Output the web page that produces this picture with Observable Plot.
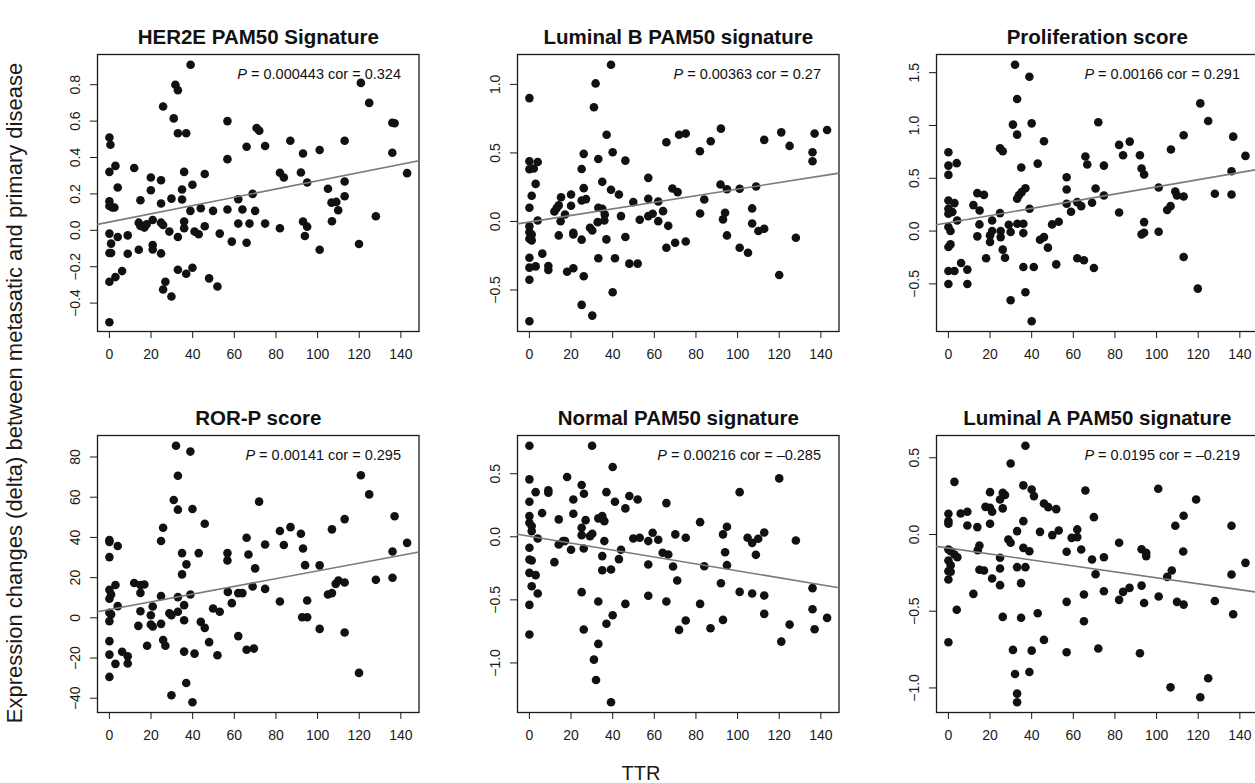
<!DOCTYPE html>
<html><head><meta charset="utf-8">
<script src="https://cdn.jsdelivr.net/npm/d3@7"></script>
<script src="https://cdn.jsdelivr.net/npm/@observablehq/plot@0.6"></script>
<style>
html,body{margin:0;padding:0;background:#fff;}
#fig{position:relative;width:1255px;height:783px;overflow:hidden;font-family:'Liberation Sans',Arial,Helvetica,sans-serif;color:#1a1a1a;}
.panel{position:absolute;}
#ylab{position:absolute;left:15px;top:393px;transform:translate(-50%,-50%) rotate(-90deg);white-space:nowrap;font-size:22px;}
#xlab{position:absolute;left:641px;top:773px;transform:translate(-50%,-50%);font-size:20px;}
</style></head><body><div id="fig"><div id="ylab">Expression changes (delta) between metasatic and primary disease</div><div id="xlab">TTR</div></div>
<script>
// ---- data (TTR, delta) ----
const xTicks = [0, 20, 40, 60, 80, 100, 120, 140];
const xDomain = [-5.72, 148.72];

const titles = ["HER2E PAM50 Signature", "Luminal B PAM50 signature", "Proliferation score",
                "ROR-P score", "Normal PAM50 signature", "Luminal A PAM50 signature"];
const stats = ["P = 0.000443 cor = 0.324", "P = 0.00363 cor = 0.27", "P = 0.00166 cor = 0.291",
               "P = 0.00141 cor = 0.295", "P = 0.00216 cor = \u20130.285", "P = 0.0195 cor = \u20130.219"];
// fitted line: [intercept, slope]
const fits = [[0.0457, 0.00226], [-0.0043, 0.0024], [0.079, 0.0034],
              [4.08, 0.1925], [0.0044, -0.002746], [-0.0888, -0.001937]];
const yDomains = [[-0.556, 0.966], [-0.803, 1.218], [-0.951, 1.672],
                  [-47.1, 90.7], [-1.393, 0.803], [-1.16, 0.645]];
const yTicks = [[-0.4, -0.2, 0, 0.2, 0.4, 0.6, 0.8], [-0.5, 0, 0.5, 1.0], [-0.5, 0, 0.5, 1.0, 1.5],
                [-40, -20, 0, 20, 40, 60, 80], [-1.0, -0.5, 0, 0.5], [-1.0, -0.5, 0, 0.5]];
const yDecimals = [1, 1, 1, 0, 1, 1];

const her2e = [[39,0.91],[31.7,0.80],[32.9,0.77],[25.8,0.68],[30.9,0.615],[32.9,0.533],[36.9,0.533],[56.7,0.60],[0,0.51],[0.5,0.47],[2.9,0.354],[0,0.321],[11.9,0.342],[65.9,0.459],[56.7,0.391],[70.7,0.562],[72,0.547],[19.9,0.29],[24.8,0.275],[35.9,0.321],[45.8,0.309],[4,0.235],[19.9,0.22],[34.9,0.224],[39.9,0.25],[0,0.16],[0,0.134],[1.4,0.125],[2.4,0.125],[14.9,0.165],[24.8,0.147],[29.8,0.174],[34.9,0.169],[61.9,0.171],[68.8,0.2],[38.9,0.107],[43.9,0.121],[49.8,0.107],[56.7,0.114],[63.9,0.114],[70,0.107],[14.1,0.042],[14.9,0.024],[16.8,0.015],[17.9,0.033],[20.8,0.057],[24.8,0.042],[25.8,0.029],[35.9,0.048],[35.9,0.011],[28.8,-0.007],[32.9,-0.037],[40.9,-0.007],[42.9,-0.022],[45.8,0.022],[53,-0.018],[61.9,0.037],[67.3,0.037],[58.8,-0.062],[65.9,-0.068],[0,-0.018],[4,-0.037],[0.8,-0.073],[8.8,-0.028],[0,-0.125],[0.8,-0.125],[8.8,-0.129],[14.1,-0.107],[20.8,-0.081],[20.8,-0.105],[24.8,-0.127],[0,-0.283],[2.9,-0.257],[6.1,-0.224],[32.9,-0.217],[36.9,-0.239],[39.9,-0.206],[47.9,-0.264],[51.9,-0.309],[26.9,-0.283],[25.8,-0.325],[29.8,-0.364],[0,-0.505],[120.8,0.81],[124.8,0.70],[135.9,0.591],[137,0.588],[74.8,0.463],[86.9,0.492],[93,0.422],[101,0.441],[113,0.492],[135.9,0.426],[143,0.314],[81.9,0.316],[83.8,0.29],[92,0.318],[95,0.263],[113,0.268],[105,0.228],[113,0.187],[74.8,0.037],[81.9,0.011],[106.7,0.152],[109,0.156],[109.9,0.11],[93,0.048],[95,0.02],[93.9,-0.031],[106.9,0.05],[128,0.077],[101,-0.107],[119.9,-0.075]];

const luminalB = [[39.2,1.143],[31.8,1.007],[31,0.833],[0,0.90],[37.1,0.633],[65.8,0.578],[26.1,0.493],[40,0.505],[33.1,0.456],[46.1,0.444],[0,0.439],[4,0.434],[0,0.381],[2.1,0.386],[25.1,0.383],[3,0.274],[35,0.289],[57.1,0.318],[26.1,0.243],[39.2,0.231],[43,0.197],[1.1,0.187],[15.2,0.177],[20,0.197],[25.1,0.153],[27.2,0.163],[0,0.1],[14.1,0.117],[13.1,0.097],[12,0.073],[20,0.114],[17.1,0.051],[15,0.002],[4,0.007],[33.1,0.1],[35,0.092],[36.2,0.051],[36,0.007],[32.8,-0.005],[49.9,0.141],[44,0.039],[53,0.012],[57.1,0.165],[61.9,0.146],[57.1,0.039],[59.2,0.056],[61.9,0.002],[64.2,0.075],[66.7,-0.032],[65.8,-0.192],[0,-0.036],[0,-0.078],[1.1,-0.095],[0,-0.126],[1.1,-0.138],[14.1,-0.102],[21.1,-0.083],[21.1,-0.095],[25.1,-0.133],[29.1,-0.046],[30.2,-0.066],[37,-0.131],[46.1,-0.114],[0,-0.265],[0,-0.337],[3,-0.328],[6.2,-0.235],[9.1,-0.325],[9.1,-0.354],[18.1,-0.367],[21.1,-0.342],[26.1,-0.4],[33.1,-0.269],[41.1,-0.269],[48,-0.308],[52,-0.308],[0,-0.425],[40,-0.517],[25.1,-0.609],[30.2,-0.687],[0,-0.728],[71.9,0.633],[75.1,0.641],[92,0.677],[87.1,0.585],[81.9,0.512],[112.8,0.595],[121,0.65],[125,0.551],[137,0.641],[143,0.667],[136,0.505],[136,0.439],[68.7,0.24],[71.2,0.214],[91.8,0.269],[94.9,0.235],[101,0.238],[108.9,0.255],[84,0.16],[82,0.058],[94,0.063],[93,0.015],[107,0.095],[107,-0.015],[110,-0.07],[112.8,-0.053],[94.9,-0.102],[70,-0.155],[75.1,-0.146],[101,-0.192],[105,-0.228],[128,-0.119],[120,-0.391]];

const proliferation = [[32,1.575],[38.9,1.461],[33,1.25],[31,1.008],[40,1.02],[33,0.913],[24.8,0.784],[26.1,0.756],[45.9,0.85],[0,0.746],[0,0.62],[4,0.643],[0,0.532],[35,0.602],[42.9,0.639],[56.8,0.51],[56.8,0.394],[37,0.406],[35.2,0.369],[33.9,0.34],[33,0.306],[13.9,0.359],[17.1,0.343],[0,0.29],[2.9,0.265],[0,0.211],[1.9,0.18],[0,0.164],[12,0.246],[15,0.195],[4.2,0.1],[0,0.038],[1,0],[24.8,0.17],[39,0.211],[56.8,0.258],[58.9,0.183],[61.9,0.274],[63.8,0.236],[14.9,0.063],[21,0.1],[21,0],[20,-0.041],[20,-0.104],[25.1,0],[25.1,-0.057],[29,0.06],[29.9,-0.009],[33.1,0.069],[36,0.069],[36,-0.019],[13.9,-0.05],[44,-0.082],[45.9,-0.057],[49.8,0.063],[53,0.088],[47.8,-0.157],[26.1,-0.176],[27.2,-0.252],[0,-0.151],[1,-0.126],[18.1,-0.258],[36,-0.34],[41,-0.34],[51.8,-0.315],[61.9,-0.258],[65.1,-0.277],[0,-0.378],[2.9,-0.378],[6.1,-0.302],[9.1,-0.365],[0,-0.501],[9.1,-0.501],[29.9,-0.655],[37,-0.58],[40,-0.854],[72,1.03],[65.8,0.706],[66.7,0.63],[74.7,0.62],[82,0.816],[87.1,0.847],[83.9,0.718],[92,0.718],[92.8,0.592],[94,0.535],[106.9,0.772],[113,0.907],[121,1.209],[124.8,1.043],[136.8,0.894],[142.7,0.712],[136,0.567],[70.7,0.403],[74.7,0.337],[69,0.268],[101,0.413],[109,0.375],[109.8,0.337],[113,0.328],[128,0.353],[136,0.346],[82,0.176],[105.1,0.2],[106.7,0.236],[94,0.085],[94,-0.016],[92.8,-0.031],[101,-0.006],[69.9,-0.35],[113,-0.246],[119.8,-0.545]];

const rorP = [[32,85.6],[38.9,82.7],[32.9,70.7],[30.9,58.6],[32.9,53.8],[39.9,54.1],[45.8,46.8],[25.8,44.8],[24.8,38.2],[0,38.7],[0,37.8],[4,35.7],[0,30.2],[34.9,32.2],[37,26.6],[34.9,21.6],[42.9,32.2],[56.7,32.2],[56.7,28.5],[65.9,39.8],[66.8,31.5],[70,24.6],[0,13.9],[0,9.5],[0.8,11.6],[2.9,16.3],[4,5.8],[0,2.5],[0.8,1.7],[0,-1.7],[11.9,17.3],[14.9,16.3],[16.8,16.6],[14.9,12.4],[24.8,10.8],[32.9,10.3],[38.9,11.6],[35.9,6.3],[20.8,5.6],[14.9,3.3],[19.9,1.3],[20.8,-4.3],[19.9,-3.3],[24.8,-3],[28.8,2.3],[29.8,1.3],[32.9,3],[35.9,-1.2],[13.9,-4],[43.9,-2],[45.8,-5],[49.8,4.6],[53,3],[56.9,12.9],[58.8,7.3],[61.9,12.3],[63.9,12.3],[68.8,15.6],[61.9,-9.1],[65.9,-15.9],[69.4,-15.3],[0,-11.6],[0,-18.3],[6.1,-16.9],[8.8,-19.1],[8.8,-22.7],[2.9,-22.9],[0,-29.4],[18.1,-13.9],[25.8,-11],[26.9,-13.9],[47.9,-12.1],[51.9,-18.6],[35.9,-16.8],[40.9,-17.8],[36.9,-32.4],[29.8,-38.5],[39.9,-42],[120.8,70.9],[124.8,61.4],[71.9,57.8],[137,50.5],[113,49.1],[106.9,44],[81.9,43.2],[87,45.1],[92,41.8],[74.8,36.5],[83.8,36.2],[93,34.5],[143,37.3],[136,33],[94,26.2],[101,26.1],[74.8,14.4],[81.9,8.1],[95,8.6],[105,11.6],[106.9,12.3],[108.7,16.9],[110,18.6],[113,17.6],[128,18.9],[136,19.9],[92.6,0.3],[95,0.3],[101,-5.5],[113,-7.3],[119.9,-27.4]];

const normal = [[0,0.722],[30.1,0.722],[40,0.553],[0,0.455],[18.1,0.474],[25.1,0.41],[3,0.354],[9.1,0.368],[9.1,0.349],[26.2,0.341],[37,0.354],[21.1,0.296],[0,0.278],[41.1,0.278],[48,0.323],[52,0.296],[46.1,0.225],[65.8,0.267],[6.1,0.188],[21.1,0.183],[0,0.164],[0,0.111],[1.1,0.085],[1.1,0.045],[14.1,0.138],[27,0.132],[33.1,0.146],[35,0.146],[36,0.124],[35,0.164],[25.1,0.071],[25.1,0.013],[29.1,0.005],[30.2,0.024],[4,-0.013],[0,-0.087],[14.1,-0.061],[16.2,-0.034],[17.1,-0.034],[20,-0.103],[26.1,-0.093],[36,-0.034],[49.9,-0.013],[53,-0.008],[57.1,-0.034],[59.2,0.032],[61.9,-0.024],[44,-0.103],[35,-0.153],[43,-0.177],[0,-0.18],[1.1,-0.188],[12,-0.201],[64,-0.127],[66.7,-0.14],[57.1,-0.22],[35,-0.265],[39.2,-0.259],[0,-0.286],[3,-0.304],[1.1,-0.392],[4,-0.45],[25.1,-0.439],[33.1,-0.513],[46.1,-0.532],[57.1,-0.468],[65.8,-0.513],[0,-0.54],[40,-0.622],[37,-0.69],[26.1,-0.735],[0,-0.775],[33.1,-0.849],[31,-0.974],[32,-1.135],[39.2,-1.312],[120,0.463],[101,0.354],[82,0.116],[94.9,0.079],[93,0.019],[70.1,0.019],[75.1,-0.008],[104.8,-0.008],[107,-0.048],[109.9,-0.016],[112.8,0.034],[128,-0.029],[94,-0.122],[108.8,-0.143],[69,-0.235],[84,-0.233],[94.9,-0.225],[71,-0.347],[92,-0.368],[101,-0.437],[107,-0.45],[112.8,-0.466],[136,-0.407],[82,-0.532],[75.1,-0.664],[71.9,-0.738],[87,-0.725],[93,-0.659],[112.8,-0.611],[136,-0.574],[125,-0.696],[137,-0.733],[143,-0.643],[121,-0.831]];

const luminalA = [[37,0.578],[29.9,0.463],[2.9,0.343],[36,0.32],[40,0.293],[41.1,0.25],[20,0.276],[26.1,0.272],[27.2,0.257],[24.8,0.228],[26.1,0.17],[17.8,0.18],[20,0.174],[21,0.148],[45.9,0.202],[48,0.178],[51.8,0.165],[0,0.135],[0,0.087],[0,0.07],[5.9,0.137],[9.1,0.148],[9.1,0.059],[13.9,0.048],[20,0.07],[36,0.087],[33,0.022],[44,0.017],[49.9,-0.004],[53,0.026],[61.9,0.033],[59.2,-0.022],[61.9,-0.017],[28.8,-0.033],[29.9,-0.054],[14.9,-0.072],[14.1,-0.102],[0,-0.098],[1.1,-0.109],[2.9,-0.13],[4.3,-0.148],[36,-0.087],[38.9,-0.109],[56.8,-0.113],[63.8,-0.098],[0,-0.17],[1.1,-0.2],[0,-0.239],[1.1,-0.243],[0,-0.293],[24.8,-0.152],[24.8,-0.222],[14.9,-0.23],[17.1,-0.235],[33,-0.213],[37,-0.213],[21,-0.287],[24.8,-0.33],[34.9,-0.317],[12,-0.387],[65.1,-0.391],[56.8,-0.439],[4,-0.491],[26.1,-0.537],[34.9,-0.543],[42.9,-0.513],[65.1,-0.565],[0,-0.702],[45.9,-0.687],[31,-0.752],[40,-0.757],[56.8,-0.767],[32,-0.909],[38.9,-0.896],[33,-1.037],[33,-1.093],[65.8,0.287],[100.8,0.298],[119,0.228],[69.9,0.113],[113,0.122],[109,0.057],[136,0.057],[82,-0.054],[69,-0.163],[74.7,-0.148],[92.8,-0.096],[95,-0.12],[95,-0.141],[112.8,-0.111],[142.7,-0.185],[107.3,-0.235],[105.1,-0.276],[70.7,-0.259],[136,-0.261],[92.8,-0.333],[83.9,-0.374],[87,-0.348],[74.7,-0.37],[82,-0.426],[94,-0.446],[101,-0.404],[109.8,-0.439],[113,-0.457],[128,-0.433],[136.8,-0.52],[72,-0.743],[92,-0.774],[106.7,-0.996],[124.8,-0.937],[121,-1.061]];

const series = [her2e, luminalB, proliferation, rorP, normal, luminalA];

// ---- layout ----
const FONT = "'Liberation Sans', Arial, Helvetica, sans-serif";
const colBoxLeft = [97.1, 517.4, 936.4];
const rowBoxTop = [54, 434.5];
const mL = 50, mR = 14, mT = 60, mB = 45, boxW = 321.5, boxH = 277;
const fig = document.getElementById("fig");
const minus = s => s.replace("-", "\u2212");

series.forEach((data, i) => {
  const col = i % 3, row = Math.floor(i / 3);
  const [a, b] = fits[i];
  const fitLine = xDomain.map(x => ({x, y: a + b * x}));
  const dec = yDecimals[i];
  const plot = Plot.plot({
    width: mL + boxW + mR, height: mT + boxH + mB,
    marginLeft: mL, marginRight: mR, marginTop: mT, marginBottom: mB,
    style: {fontFamily: FONT, fontSize: "14px", color: "#1a1a1a", background: "transparent", overflow: "visible"},
    x: {domain: xDomain},
    y: {domain: yDomains[i]},
    marks: [
      Plot.axisX({ticks: xTicks, tickSize: 7, tickPadding: 11, label: null, tickFormat: d => String(d), fontSize: 14}),
      Plot.axisY({ticks: yTicks[i], tickSize: 7, tickPadding: 11, tickRotate: -90, label: null,
                  tickFormat: d => minus(d.toFixed(dec)), fontSize: 14}),
      Plot.frame({stroke: "#1a1a1a", strokeWidth: 1.3}),
      Plot.dot(data, {x: d => d[0], y: d => d[1], r: 4.3, fill: "#111", stroke: null}),
      Plot.line(fitLine, {x: "x", y: "y", stroke: "#7a7a7a", strokeWidth: 1.6}),
      Plot.text([titles[i]], {text: d => d, frameAnchor: "top", dy: -25, fontSize: 20.5, fontWeight: "bold", fill: "#111"}),
      Plot.text([stats[i]], {text: d => d, frameAnchor: "top-right", dx: -18, dy: 14.5, textAnchor: "end", fontSize: 14.5, fill: "#111"})
    ]
  });
  // italic P in the statistics line
  plot.querySelectorAll("text").forEach(t => {
    const s = t.textContent;
    if (s.startsWith("P = ")) {
      const ns = "http://www.w3.org/2000/svg";
      t.textContent = "";
      const p = document.createElementNS(ns, "tspan");
      p.setAttribute("font-style", "italic");
      p.textContent = "P";
      const rest = document.createElementNS(ns, "tspan");
      rest.textContent = s.slice(1);
      t.append(p, rest);
    }
  });
  plot.classList.add("panel");
  plot.style.left = (colBoxLeft[col] - mL) + "px";
  plot.style.top = (rowBoxTop[row] - mT) + "px";
  plot.style.position = "absolute";
  fig.appendChild(plot);
});
</script></body></html>
